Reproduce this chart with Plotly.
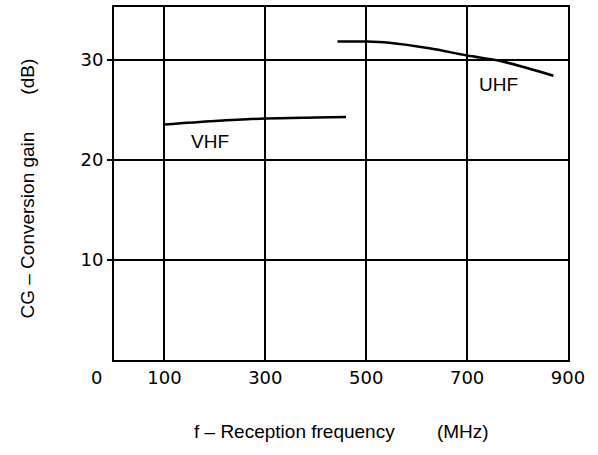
import plotly.graph_objects as go

# Data
vhf_freq = [100, 200, 300, 400, 460]
vhf_gain = [23.55, 23.9, 24.15, 24.25, 24.3]

uhf_freq = [443, 500, 545, 625, 700, 764, 871]
uhf_gain = [31.84, 31.84, 31.72, 31.17, 30.45, 29.92, 28.43]

x_tickvals = [0, 100, 300, 500, 700, 900]
x_ticktext = ["0" + "\u00a0" * 6, "100", "300", "500", "700", "900"]
y_tickvals = [10, 20, 30]
y_ticktext = ["10", "20", "30"]

x_title = "f \u2013 Reception frequency" + "\u00a0" * 8 + "(MHz)"
y_title = "CG \u2013 Conversion gain" + "\u00a0" * 7 + "(dB)"

fig = go.Figure()
fig.add_trace(go.Scatter(x=vhf_freq, y=vhf_gain, mode="lines",
                         line=dict(color="black", width=2.5, shape="spline"),
                         showlegend=False, hoverinfo="skip"))
fig.add_trace(go.Scatter(x=uhf_freq, y=uhf_gain, mode="lines",
                         line=dict(color="black", width=2.5, shape="spline"),
                         showlegend=False, hoverinfo="skip"))

fig.add_annotation(x=191, y=21.9, xref="x", yref="y", text="VHF", showarrow=False,
                   font=dict(family="Liberation Sans", size=19, color="black"))
fig.add_annotation(x=763, y=27.6, xref="x", yref="y", text="UHF", showarrow=False,
                   font=dict(family="Liberation Sans", size=19, color="black"))

fig.add_annotation(x=0.5, y=-0.203, xref="paper", yref="paper", text=x_title,
                   xanchor="center", yanchor="middle",
                   showarrow=False, font=dict(family="Liberation Sans", size=19, color="black"))
fig.add_annotation(x=-0.19, y=0.485, xref="paper", yref="paper", text=y_title,
                   xanchor="center", yanchor="middle",
                   textangle=-90, showarrow=False,
                   font=dict(family="Liberation Sans", size=19, color="black"))

fig.update_xaxes(range=[0, 900], tickvals=x_tickvals, ticktext=x_ticktext,
                 showgrid=True, gridcolor="black", gridwidth=1.5,
                 showline=True, linecolor="black", linewidth=2, mirror=True,
                 ticks="", zeroline=False,
                 tickfont=dict(family="DejaVu Sans", size=18, color="black"))
fig.update_yaxes(range=[0, 35.3], tickvals=y_tickvals, ticktext=y_ticktext,
                 showgrid=True, gridcolor="black", gridwidth=1.5,
                 showline=True, linecolor="black", linewidth=2, mirror=True,
                 ticks="outside", ticklen=5, tickwidth=1.5, tickcolor="black",
                 zeroline=False,
                 tickfont=dict(family="DejaVu Sans", size=18, color="black"))

fig.update_layout(width=598, height=455,
                  margin=dict(l=114, r=30, t=5, b=95),
                  paper_bgcolor="white", plot_bgcolor="white")

fig.write_html("out.html", config={"displayModeBar": False},
               post_script="document.body.style.margin='0px';")
